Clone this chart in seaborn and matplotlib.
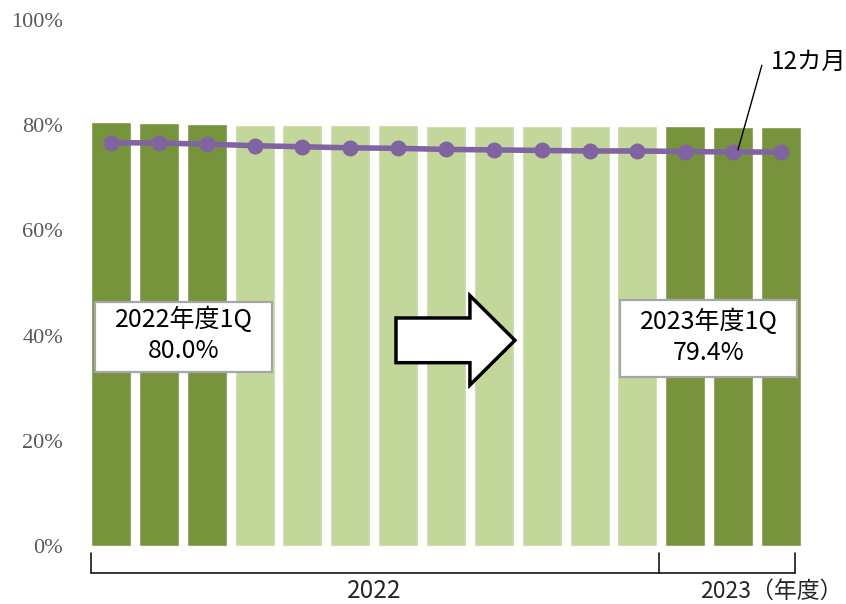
import matplotlib
matplotlib.use("Agg")
import matplotlib.pyplot as plt
from matplotlib.patches import Rectangle, FancyArrow
import seaborn as sns
import pandas as pd

# Monthly share (%) for FY2022 Apr - FY2023 Jun
months = ["2022-04", "2022-05", "2022-06", "2022-07", "2022-08", "2022-09",
          "2022-10", "2022-11", "2022-12", "2023-01", "2023-02", "2023-03",
          "2023-04", "2023-05", "2023-06"]
monthly_share = [80.6, 80.4, 80.2, 80.1, 80.1, 80.0, 80.0, 79.9, 79.9,
                 79.9, 79.9, 79.9, 79.8, 79.6, 79.6]
# 12-month rolling share (%)
rolling_share = [76.7, 76.6, 76.4, 76.1, 75.9, 75.7, 75.6, 75.4, 75.3,
                 75.2, 75.1, 75.1, 75.0, 74.9, 74.9]
# quarter highlight: first quarter of each fiscal year
period = ["1Q", "1Q", "1Q", "other", "other", "other", "other", "other",
          "other", "other", "other", "other", "1Q", "1Q", "1Q"]
yticks = [0, 20, 40, 60, 80, 100]
ytick_labels = ["0%", "20%", "40%", "60%", "80%", "100%"]
box_2022 = "2022年度1Q\n80.0%"
box_2023 = "2023年度1Q\n79.4%"
line_label = "12カ月"
year_labels = ["2022", "2023（年度）"]

DARK = "#77933C"
LIGHT = "#C4D79B"
PURPLE = "#8064A2"
CJK = ["Noto Sans CJK JP", "DejaVu Sans"]

sns.set_theme(style="white")
plt.rcParams["font.family"] = CJK

df = pd.DataFrame({"month": months, "share": monthly_share, "period": period})

W, H = 846, 604
fig = plt.figure(figsize=(W / 100, H / 100), dpi=100)
ax = fig.add_axes([91 / W, 58 / H, 710 / W, 526 / H])

bar_w = 0.835
sns.barplot(data=df, x="month", y="share", hue="period",
            palette={"1Q": DARK, "other": LIGHT}, dodge=False,
            width=bar_w, saturation=1, legend=False, ax=ax)

xs = list(range(len(months)))
sns.lineplot(x=xs, y=rolling_share, color=PURPLE, lw=4.0, marker="o",
             markersize=11.5, markeredgewidth=0, ax=ax, zorder=5)

half = bar_w / 2
ax.set_xlim(-half, len(months) - 1 + half)
ax.set_ylim(0, 100)
ax.set_yticks(yticks)
ax.set_yticklabels(ytick_labels, family="Liberation Serif", fontsize=16,
                   color="#595959")
ax.tick_params(axis="y", length=0, pad=20)
ax.set_xticks([])
ax.set_xlabel("")
ax.set_ylabel("")
for s in ax.spines.values():
    s.set_visible(False)

# summary boxes
for (x0, x1, y0, y1, txt) in [(-0.334, 3.364, 33.1, 46.4, box_2022),
                              (10.636, 14.334, 32.1, 46.8, box_2023)]:
    ax.add_patch(Rectangle((x0, y0), x1 - x0, y1 - y0, facecolor="white",
                           edgecolor="#A6A6A6", lw=1.6, zorder=6))
    ax.text((x0 + x1) / 2, (y0 + y1) / 2 + 0.3, txt, ha="center",
            va="center", fontsize=18, linespacing=1.25, color="black",
            zorder=7)

# block arrow between the boxes
ax.add_patch(FancyArrow(5.955, 39.1, 8.44 - 5.955, 0, width=8.5,
                        head_width=17.0, head_length=8.44 - 7.50,
                        length_includes_head=True, facecolor="white",
                        edgecolor="black", lw=2.5, zorder=6))

# leader for the rolling line
ax.plot([13.60, 13.10], [91.4, 75.3], color="black", lw=1, zorder=8,
        clip_on=False)
ax.text(13.79, 92.0, line_label, fontsize=17.5, ha="left", va="center",
        color="black", clip_on=False, zorder=8)

# fiscal-year bracket under the bars
top, bot = -1.3, -5.1
mid = 11.45
right = 14.3
for xv in (-half, mid, right):
    ax.plot([xv, xv], [top, bot], color="black", lw=1.1, clip_on=False)
ax.plot([-half, right], [bot, bot], color="black", lw=1.1, clip_on=False)
ax.text(5.49, -9.9, year_labels[0], ha="center", va="baseline",
        fontsize=17.5, clip_on=False)
ax.text(12.31, -9.9, year_labels[1], ha="left", va="baseline",
        fontsize=16.5, clip_on=False)

fig.savefig("out.png", dpi=100)
